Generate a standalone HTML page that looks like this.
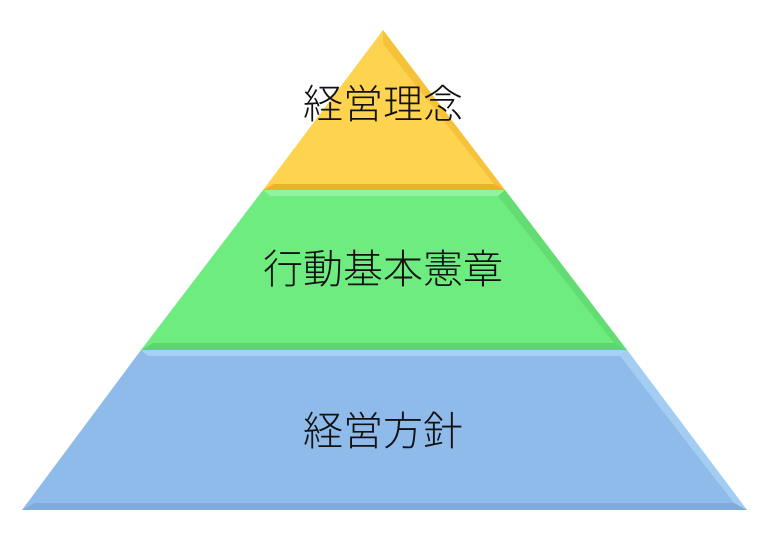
<!DOCTYPE html>
<html><head><meta charset="utf-8"><style>
body{margin:0;width:770px;height:550px;background:#fff;overflow:hidden}
svg text{font-family:"Liberation Sans","Noto Sans CJK JP",sans-serif;font-size:40px;font-weight:300;fill:#111;text-anchor:middle}
</style></head><body>
<svg width="770" height="550" viewBox="0 0 770 550">
<polygon points="383,30 505,190 263,190" fill="#fdd34f"/>
<polygon points="383,30 505,190 494,184 383,44" fill="#f5c23a"/>
<polygon points="263,190 505,190 494,184 274,184" fill="#e9b22e"/>
<polygon points="263,190 505,190 627,350 141,350" fill="#6fec80"/>
<polygon points="505,190 627,350 614,343 498,196" fill="#63dd73"/>
<polygon points="141,350 627,350 614,343 153,343" fill="#5fd56e"/>
<polygon points="263,190 505,190 498,196 270,196" fill="#8ff49d"/>
<polygon points="141,350 627,350 747,510 22,510" fill="#8ebbea"/>
<polygon points="627,350 747,510 734,503 620,356" fill="#a4cdf2"/>
<polygon points="22,510 747,510 734,503 35,503" fill="#80acdc"/>
<polygon points="141,350 627,350 620,356 148,356" fill="#a8d0f4"/>
<text x="383" y="118">経営理念</text>
<text x="383" y="283">行動基本憲章</text>
<text x="383" y="445">経営方針</text>
</svg>
</body></html>
